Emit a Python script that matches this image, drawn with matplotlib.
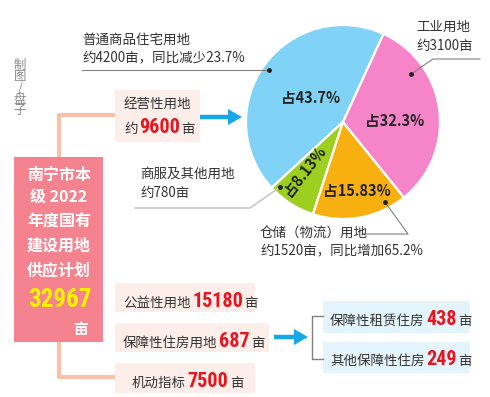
import matplotlib.pyplot as plt
from matplotlib.patches import Rectangle, FancyArrow

plt.rcParams['font.family'] = ['Noto Sans CJK SC', 'DejaVu Sans']

W, H = 490, 397

# pie: share of the commercial/industrial land plan
pie_share = [43.7, 8.13, 15.83, 32.3]
pie_labels = ['占43.7%', '占8.13%', '占15.83%', '占32.3%']
pie_names = ['普通商品住宅用地', '商服及其他用地', '仓储（物流）用地', '工业用地']
pie_notes = ['约4200亩，同比减少23.7%', '约780亩', '约1520亩，同比增加65.2%', '约3100亩']
pie_colors = ['#80d3f6', '#9ccf20', '#f8b010', '#f584c8']

total_plan = 32967
business_land = 9600
public_land = 15180
housing_land = 687
reserve_land = 7500
rental_housing = 438
other_housing = 249

DARK = '#333333'
RED = '#e8141e'
GRAY = '#808080'
PEACH = '#f9c0a8'
ARROW = '#18a8e8'
NUMFAM = ['Liberation Sans Narrow', 'DejaVu Sans Condensed', 'Roboto Condensed', 'DejaVu Sans']

fig = plt.figure(figsize=(W / 100, H / 100), dpi=100)
ax = fig.add_axes([0, 0, 1, 1])


def Y(y):
    return H - y


ax.pie(pie_share, colors=pie_colors, startangle=65.3, counterclock=True,
       center=(343, Y(122)), radius=97, frame=True,
       wedgeprops=dict(edgecolor='white', linewidth=1.6))
ax.set_xlim(0, W)
ax.set_ylim(0, H)
ax.set_aspect('auto')
ax.axis('off')

# percentage labels inside the pie
lab_pos = [(311, 98, 0), (304, 171, 52), (357, 191, 0), (395, 121, 0)]
for s, (x, y, rot) in zip(pie_labels, lab_pos):
    ax.text(x, Y(y), s, ha='center', va='center', rotation=rot,
            fontsize=10.5, fontweight='bold', color='#222222')

# callouts
txt = dict(fontsize=9.7, color=DARK)
# residential
ax.text(82, Y(40), pie_names[0], ha='left', va='center', **txt)
ax.text(82, Y(58), pie_notes[0], ha='left', va='center', **txt)
ax.plot([82, 269], [Y(70), Y(70)], color=GRAY, lw=0.8)
ax.plot([269], [Y(70)], 'o', color='#222222', ms=2.5)
# industrial
ax.text(416, Y(27), pie_names[3], ha='left', va='center', **txt)
ax.text(416, Y(46), pie_notes[3], ha='left', va='center', **txt)
ax.plot([480, 433, 411], [Y(59), Y(59), Y(74)], color=GRAY, lw=0.8)
ax.plot([411], [Y(74)], 'o', color='#222222', ms=2.5)
# commercial service
ax.text(140, Y(174), pie_names[1], ha='left', va='center', **txt)
ax.text(140, Y(193), pie_notes[1], ha='left', va='center', **txt)
ax.plot([135, 250, 280], [Y(208), Y(208), Y(187)], color='#c8c8c8', lw=1.2)
ax.plot([280], [Y(187)], 'o', color='#222222', ms=2.5)
# storage
ax.text(260, Y(234), pie_names[2], ha='left', va='center', **txt)
ax.text(260, Y(251), pie_notes[2], ha='left', va='center', **txt)
ax.plot([362, 408, 385], [Y(234), Y(234), Y(202)], color=GRAY, lw=0.8)
ax.plot([385], [Y(202)], 'o', color='#222222', ms=2.5)

# credit, written vertically
ax.text(20, Y(88), '制\n图\n/\n盘\n子', ha='center', va='center', fontsize=9,
        color='#8a8a8a', linespacing=0.82, multialignment='center')

# peach connectors
ax.plot([115, 59, 59], [Y(115), Y(115), Y(157)], color=PEACH, lw=3, solid_capstyle='butt')
ax.plot([59, 59, 115], [Y(342), Y(377), Y(377)], color=PEACH, lw=3, solid_capstyle='butt')

# main pink box
ax.add_patch(Rectangle((14, Y(342)), 89, 185, color='#f4828f', lw=0))
for s, y in zip(['南宁市本', '级 2022', '年度国有', '建设用地', '供应计划'],
                [175, 198, 222, 246, 270]):
    ax.text(59, Y(y), s, ha='center', va='center', fontsize=11.5,
            fontweight='bold', color='white')
ax.text(60, Y(300), str(total_plan), ha='center', va='center', fontsize=18,
        fontweight='bold', color='#fff200', family=NUMFAM)
ax.text(80, Y(329), '亩', ha='center', va='center', fontsize=10.5,
        fontweight='bold', color='white')

# light boxes
for x0, y0, x1, y1, c in [(115, 90, 200, 142, '#fdeeea'),
                          (115, 283, 255, 312, '#fdeeea'),
                          (115, 323, 269, 352, '#fdeeea'),
                          (115, 363, 255, 393, '#fdeeea'),
                          (323, 301, 470, 333, '#e4f4fc'),
                          (323, 342, 470, 373, '#e4f4fc')]:
    ax.add_patch(Rectangle((x0, Y(y1)), x1 - x0, y1 - y0, color=c, lw=0))

fig.canvas.draw()
renderer = fig.canvas.get_renderer()
inv = ax.transData.inverted()
num = dict(fontsize=14.5, fontweight='bold', color=RED, family=NUMFAM)


def row(x, y, parts, gap=1.5):
    for s, kw in parts:
        t = ax.text(x, Y(y), s, ha='left', va='baseline', **kw)
        bb = t.get_window_extent(renderer)
        x = inv.transform((bb.x1, bb.y1))[0] + gap


ax.text(124, Y(108), '经营性用地', ha='left', va='baseline', **txt)
row(124, 133, [('约', txt), (str(business_land), num), ('亩', txt)])
row(123, 307, [('公益性用地', txt), (str(public_land), num), ('亩', txt)])
row(123, 347, [('保障性住房用地', txt), (str(housing_land), num), ('亩', txt)])
row(132, 387, [('机动指标', txt), (str(reserve_land), num), ('亩', txt)])
row(330, 325, [('保障性租赁住房', txt), (str(rental_housing), num), ('亩', txt)])
row(330, 365, [('其他保障性住房', txt), (str(other_housing), num), ('亩', txt)])

# arrows
ax.add_patch(FancyArrow(200, Y(117), 42, 0, width=4.5, head_width=16, head_length=14,
                        length_includes_head=True, color=ARROW, lw=0))
ax.add_patch(FancyArrow(274, Y(337), 34, 0, width=4.5, head_width=16, head_length=14,
                        length_includes_head=True, color=ARROW, lw=0))
# bracket
ax.plot([323, 312, 312, 323], [Y(316), Y(316), Y(359), Y(359)], color=GRAY, lw=1)

fig.savefig('out.png', dpi=100)
